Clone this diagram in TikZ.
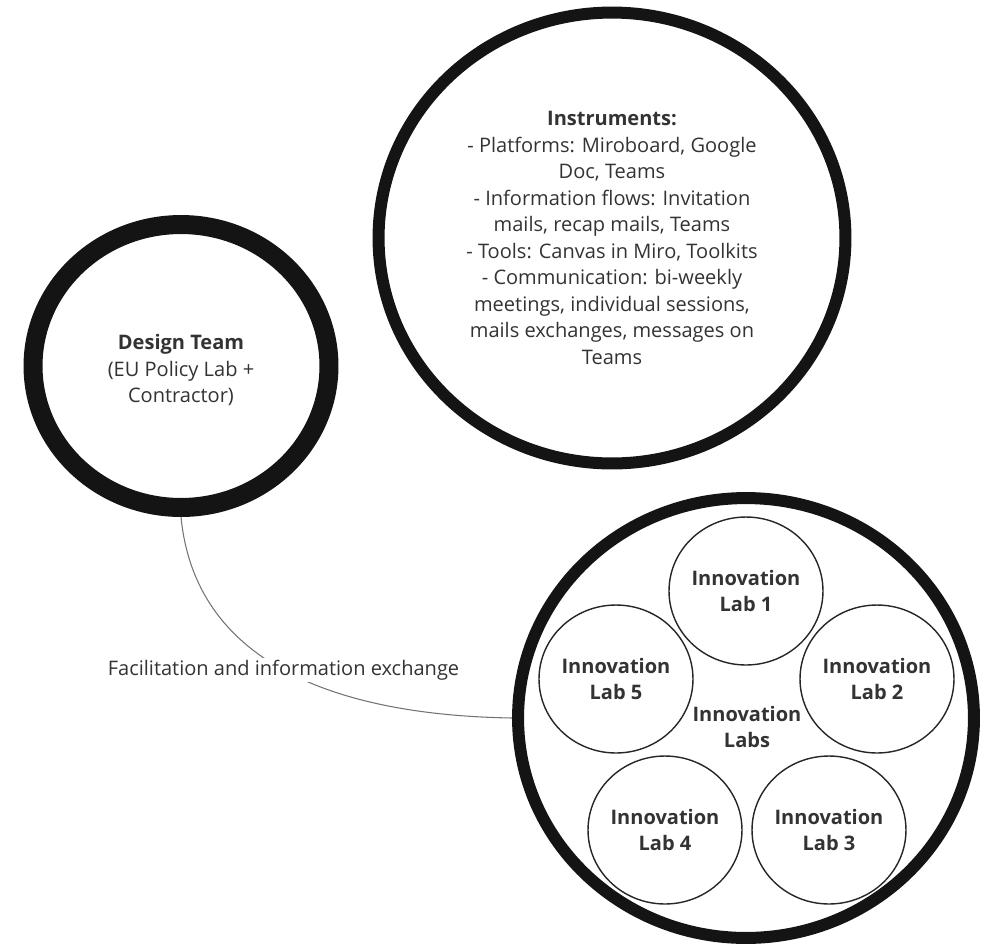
\documentclass[tikz,border=0pt]{standalone}
\usepackage{fontspec}
\setmainfont{Open Sans}
\usetikzlibrary{shapes.geometric}

\begin{document}
\begin{tikzpicture}[x=0.02cm,y=-0.02cm,
  every node/.style={font=\fontsize{11.4}{15.1}\selectfont,text=black!80,align=center},
  ring/.style={draw=black!92,ellipse,inner sep=0pt},
  labring/.style={draw=black!85,ellipse,line width=0.8pt,minimum width=3.08cm,minimum height=2.96cm,inner sep=0pt},
  conn/.style={draw=black!55,line width=0.6pt}]
\useasboundingbox (0,0) rectangle (988,944);
% the three big rings
\node[ring,line width=0.38cm,minimum width=5.92cm,minimum height=5.66cm] (design) at (181,366) {};
\node (designtxt) at (181,370) {\textbf{Design Team}\\(EU Policy Lab +\\Contractor)};
\node[ring,line width=0.24cm,minimum width=9.34cm,minimum height=9.02cm] (instr) at (612,238)
  {\textbf{Instruments:}\\- Platforms: Miroboard, Google\\Doc, Teams\\- Information flows: Invitation\\mails, recap mails, Teams\\- Tools: Canvas in Miro, Toolkits\\- Communication: bi-weekly\\meetings, individual sessions,\\mails exchanges, messages on\\Teams};
\node[ring,line width=0.24cm,minimum width=9.12cm,minimum height=8.80cm] (labs) at (746,718) {};
\node (labstxt) at (747,727) {\textbf{Innovation}\\\textbf{Labs}};
% the five labs
\node[labring] (lab1) at (746,591) {\textbf{Innovation}\\\textbf{Lab 1}};
\node[labring] (lab2) at (877,679) {\textbf{Innovation}\\\textbf{Lab 2}};
\node[labring] (lab3) at (829,830) {\textbf{Innovation}\\\textbf{Lab 3}};
\node[labring] (lab4) at (665,830) {\textbf{Innovation}\\\textbf{Lab 4}};
\node[labring] (lab5) at (616,679) {\textbf{Innovation}\\\textbf{Lab 5}};
% connector
\draw[conn] (design.south) .. controls (195,660) and (330,715) .. (labs.west)
  node[pos=0.5,fill=white,inner sep=1pt] (flow) {Facilitation and information exchange};
\end{tikzpicture}
\end{document}
